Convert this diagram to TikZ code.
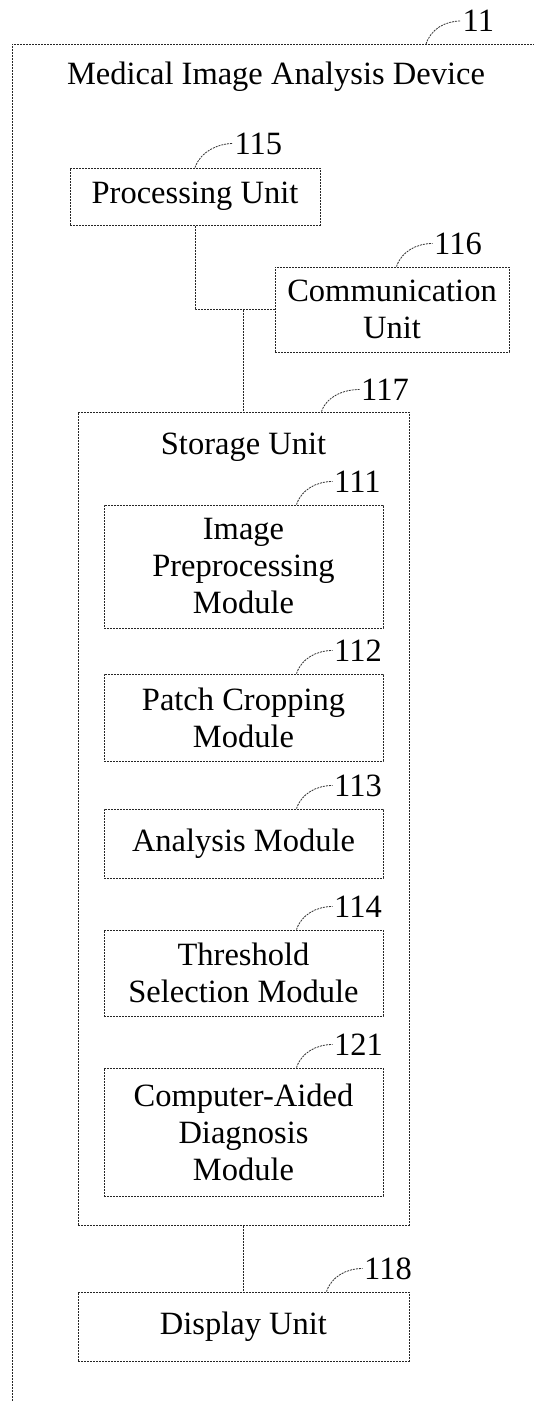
\documentclass[tikz,border=0pt]{standalone}
\usepackage{fontspec}
\setmainfont{Liberation Serif}
\usetikzlibrary{calc}

\tikzset{
  dotline/.style={draw=black!85, line width=1pt, dash pattern=on 2pt off 1pt},
  unitbox/.style={dotline, rectangle, inner sep=0pt, align=center,
    font=\fontsize{32.5}{37}\selectfont},
  caption/.style={inner sep=0pt, align=center, font=\fontsize{32.5}{37}\selectfont},
  leader/.style={draw=black!80, line width=0.8pt, dash pattern=on 2pt off 1pt},
  refnum/.style={anchor=west, inner sep=1.5pt, font=\fontsize{32.5}{37}\selectfont},
}

% reference numeral with a curved leader from (#1) to (#2)
\newcommand\refcallout[4]{%
  \coordinate (#3s) at #1;
  \coordinate (#3e) at #2;
  \draw[leader] (#3s) .. controls +(5,-15) and +(-16,0) .. (#3e);
  \node[refnum] (#3) at (#3e) {#4};
}

\begin{document}
\begin{tikzpicture}[x=1pt, y=-1pt]
  \useasboundingbox (0,0) rectangle (534,1401);

  % device frame (open towards the right and bottom)
  \coordinate (frameBL) at (12,1401);
  \coordinate (frameTL) at (12,44);
  \coordinate (frameTR) at (534,44);
  \draw[dotline] (frameBL) -- (frameTL) -- (frameTR);
  \node[caption] (device) at (276,77) {Medical Image Analysis Device};

  % units
  \node[unitbox, minimum width=250pt, minimum height=57pt] (proc) at (195,196.5) {Processing Unit};
  \node[unitbox, minimum width=234pt, minimum height=85pt] (comm) at (392,309.5) {Communication\\Unit};
  \node[unitbox, minimum width=331pt, minimum height=813pt] (store) at (243.5,818.5) {};
  \node[caption] (storelbl) at (243.5,447) {Storage Unit};
  \node[unitbox, minimum width=331pt, minimum height=69pt] (disp) at (243.5,1326.5) {Display Unit};

  % modules inside the storage unit
  \node[unitbox, minimum width=279pt, minimum height=123pt] (m111) at (243.5,566.5) {Image\\Preprocessing\\Module};
  \node[unitbox, minimum width=279pt, minimum height=87pt] (m112) at (243.5,717.5) {Patch Cropping\\Module};
  \node[unitbox, minimum width=279pt, minimum height=69pt] (m113) at (243.5,843.5) {Analysis Module};
  \node[unitbox, minimum width=279pt, minimum height=86pt] (m114) at (243.5,973) {Threshold\\Selection Module};
  \node[unitbox, minimum width=279pt, minimum height=128pt] (m121) at (243.5,1132) {Computer-Aided\\Diagnosis\\Module};

  % bus connections
  \coordinate (bus) at (proc.south |- comm.west);
  \coordinate (junc) at (store.north |- comm.west);
  \draw[dotline] (proc.south) -- (bus) -- (comm.west);
  \draw[dotline] (junc) -- (store.north);
  \draw[dotline] (store.south) -- (disp.north);

  % reference numerals
  \refcallout{(426,44)}{(461,21)}{n11}{11}
  \refcallout{(proc.north)}{($(proc.north)+(38,-24)$)}{n115}{115}
  \refcallout{($(comm.north west)+(122,0)$)}{($(comm.north west)+(158,-23)$)}{n116}{116}
  \refcallout{($(store.north west)+(244,0)$)}{($(store.north west)+(282,-22)$)}{n117}{117}
  \refcallout{($(m111.north west)+(193,0)$)}{($(m111.north west)+(229,-23)$)}{n111}{111}
  \refcallout{($(m112.north west)+(193,0)$)}{($(m112.north west)+(229,-23)$)}{n112}{112}
  \refcallout{($(m113.north west)+(193,0)$)}{($(m113.north west)+(229,-23)$)}{n113}{113}
  \refcallout{($(m114.north west)+(193,0)$)}{($(m114.north west)+(229,-23)$)}{n114}{114}
  \refcallout{($(m121.north west)+(193,0)$)}{($(m121.north west)+(229,-23)$)}{n121}{121}
  \refcallout{($(disp.north west)+(249,0)$)}{($(disp.north west)+(285,-23)$)}{n118}{118}
\end{tikzpicture}
\end{document}
